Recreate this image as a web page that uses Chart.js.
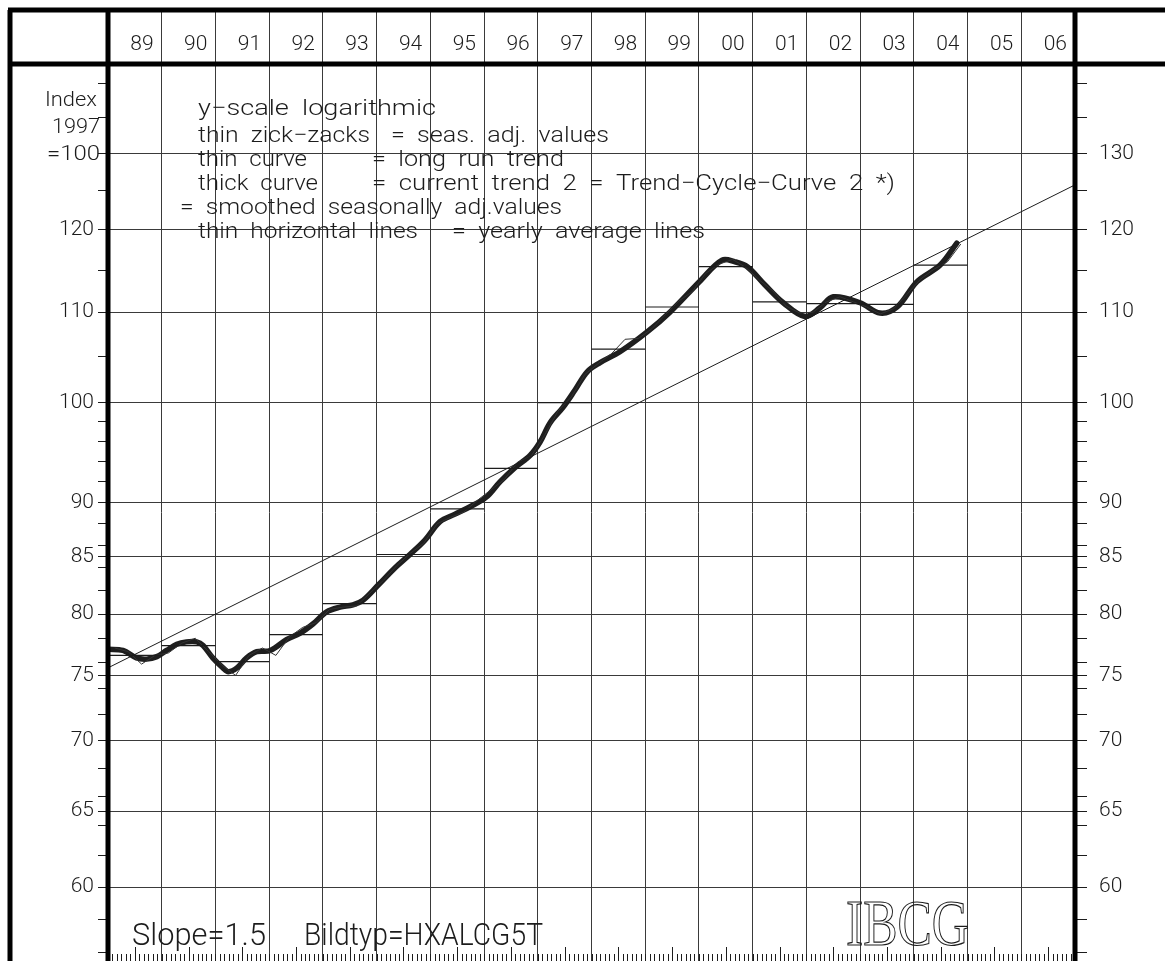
<!DOCTYPE html>
<html>
<head>
<meta charset="utf-8">
<script src="https://cdn.jsdelivr.net/npm/chart.js@4.4.1/dist/chart.umd.min.js"></script>
<style>
    html, body { margin: 0; padding: 0; background: #fff; }
    #wrap { width: 1165px; height: 961px; }
</style>
</head>
<body>
<div id="wrap"><canvas id="chart" width="1165" height="961"></canvas></div>
<script>
// x: years on the header (column boundaries)
var yearFirst = 1989;
var yearLast = 2007;

// y: log scale ticks
var yMin = 55.5;
var yMax = 142.9;
var majorTicks = [60, 65, 70, 75, 80, 85, 90, 100, 110, 120, 130];
var minorTicks = [56, 58, 62, 64, 66, 68, 72, 74, 76, 78, 82, 84, 86, 88, 92, 94, 96, 98, 105, 115, 125, 135, 140];

// yearly average lines
var avgYears = [1989, 1990, 1991, 1992, 1993, 1994, 1995, 1996, 1997, 1998, 1999, 2000, 2001, 2002, 2003, 2004];
var avgValues = [76.6, 77.4, 76.1, 78.3, 80.9, 85.2, 89.4, 93.3, 100.0, 105.8, 110.6, 115.4, 111.2, 111.0, 110.9, 115.6];

// long run trend (straight on log scale)
var trendYears = [1989, 2007];
var trendValues = [75.6, 125.8];

// thick curve = trend-cycle curve 2
var curveYears = [1989.0, 1989.28, 1989.53, 1989.72, 1989.91, 1990.09, 1990.28, 1990.46, 1990.65, 1990.77,
    1990.95, 1991.14, 1991.24, 1991.40, 1991.58, 1991.77, 1992.02, 1992.33, 1992.57, 1992.82,
    1993.07, 1993.32, 1993.56, 1993.75, 1994.03, 1994.34, 1994.62, 1994.90, 1995.18, 1995.46,
    1995.74, 1996.04, 1996.30, 1996.58, 1996.86, 1997.04, 1997.23, 1997.47, 1997.69, 1997.92,
    1998.16, 1998.53, 1999.03, 1999.46, 2000.04, 2000.43, 2000.67, 2000.90, 2001.23, 2001.57,
    2001.97, 2002.25, 2002.50, 2003.00, 2003.37, 2003.69, 2004.06, 2004.49, 2004.80];
var curveValues = [77.1, 77.0, 76.4, 76.3, 76.5, 77.0, 77.5, 77.7, 77.7, 77.4,
    76.4, 75.6, 75.3, 75.6, 76.4, 76.9, 77.0, 77.9, 78.4, 79.2,
    80.2, 80.6, 80.8, 81.2, 82.5, 84.0, 85.2, 86.5, 88.2, 88.9,
    89.6, 90.5, 92.0, 93.4, 94.6, 95.9, 97.9, 99.5, 101.3, 103.3,
    104.3, 105.5, 107.7, 110.0, 113.8, 116.2, 116.0, 115.4, 113.2, 111.1,
    109.5, 110.5, 111.8, 111.1, 109.9, 110.6, 113.6, 115.6, 118.3];

// thin zick-zacks = quarterly seasonally adjusted values, 1989 Q1 .. 2004 Q4
var quarterValues = [
    77.2, 76.9, 75.9, 76.6,
    76.8, 77.6, 78.0, 76.9,
    75.8, 75.0, 76.6, 77.2,
    76.6, 78.1, 78.9, 79.3,
    80.4, 80.6, 80.7, 81.8,
    82.9, 84.2, 85.3, 86.2,
    88.0, 88.6, 89.1, 90.2,
    91.2, 92.2, 93.9, 94.5,
    96.6, 99.1, 100.6, 103.0,
    104.2, 105.3, 106.9, 107.0,
    108.1, 109.7, 111.3, 112.4,
    114.6, 115.7, 116.3, 115.3,
    113.8, 112.5, 110.7, 109.9,
    110.0, 111.2, 111.8, 111.2,
    110.6, 109.8, 110.4, 112.1,
    113.9, 115.1, 116.0, 118.2
];

var FONT = "Roboto, 'Liberation Sans', sans-serif";
var INK = '#1c1c1c';
var GRID = '#3a3a3a';

function toPoints(xs, ys) { // coppie x/y per Chart.js
    var out = [];
    for (var i = 0; i < xs.length; i++) {
        out.push({ x: xs[i], y: ys[i] });
    }
    return out;
}

function quarterPoints() { // valori trimestrali al centro del trimestre
    var out = [];
    for (var i = 0; i < quarterValues.length; i++) {
        out.push({ x: avgYears[0] + (i + 0.5) / 4, y: quarterValues[i] });
    }
    return out;
}

function averagePoints() { // segmenti orizzontali, separati da un buco
    var out = [];
    for (var i = 0; i < avgYears.length; i++) {
        out.push({ x: avgYears[i], y: avgValues[i] });
        out.push({ x: avgYears[i] + 1, y: avgValues[i] });
        out.push({ x: avgYears[i] + 1, y: null });
    }
    return out;
}

function yTicks(scale) {
    scale.ticks = majorTicks.concat(minorTicks).sort(function (a, b) { return a - b; }).map(function (v) {
        return { value: v };
    });
}

function noPadding(scale) { // niente margini extra per le etichette
    scale.paddingTop = 0;
    scale.paddingBottom = 0;
    scale.paddingLeft = 0;
    scale.paddingRight = 0;
}

function isMajor(v) {
    return majorTicks.indexOf(v) >= 0;
}

function fitText(ctx, str, x, y, w, size, family, weight, stroke) { // testo stirato alla larghezza voluta
    ctx.save();
    ctx.font = (weight || '300') + ' ' + size + 'px ' + (family || FONT);
    var m = ctx.measureText(str).width;
    ctx.translate(x, y);
    ctx.scale(w / m, 1);
    if (stroke) {
        ctx.strokeText(str, 0, 0);
    } else {
        ctx.fillText(str, 0, 0);
    }
    ctx.restore();
}

var framePlugin = {
    id: 'frame',
    afterDraw: function (chart) {
        var ctx = chart.ctx;
        var a = chart.chartArea;
        var top = chart.scales.x.top;
        var xs = chart.scales.x;
        ctx.save();

        // month ticks along the bottom, longer at mid-year
        ctx.strokeStyle = INK;
        ctx.lineWidth = 1;
        ctx.beginPath();
        for (var m = 1; m < (yearLast - yearFirst) * 12; m++) {
            var px = Math.round(xs.getPixelForValue(yearFirst + m / 12)) + 0.5;
            var len = (m % 12 === 6) ? 14 : 7;
            ctx.moveTo(px, chart.height);
            ctx.lineTo(px, chart.height - len);
        }
        ctx.stroke();

        // thick frame
        ctx.strokeStyle = '#000';
        ctx.lineWidth = 5;
        ctx.beginPath();
        ctx.moveTo(8, top); ctx.lineTo(chart.width, top);
        ctx.moveTo(8, a.top); ctx.lineTo(chart.width, a.top);
        ctx.moveTo(10, top); ctx.lineTo(10, chart.height);
        ctx.moveTo(a.left, top); ctx.lineTo(a.left, chart.height);
        ctx.moveTo(a.right, top); ctx.lineTo(a.right, chart.height);
        ctx.stroke();

        // texts
        ctx.fillStyle = INK;
        ctx.strokeStyle = INK;
        ctx.textBaseline = 'alphabetic';
        fitText(ctx, 'Index', 45, 106, 52, 21);
        fitText(ctx, '1997', 52, 133, 48, 21);
        fitText(ctx, '=100', 47, 160, 53, 21);

        fitText(ctx, 'y\u2212scale  logarithmic', 198, 115, 238, 22);
        fitText(ctx, 'thin  zick\u2212zacks', 198, 142, 172, 22);
        fitText(ctx, '=  seas.  adj.  values', 391, 142, 218, 22);
        fitText(ctx, 'thin  curve', 198, 166, 109, 22);
        fitText(ctx, '=  long  run  trend', 372, 166, 192, 22);
        fitText(ctx, 'thick  curve', 198, 190, 120, 22);
        fitText(ctx, '=  current  trend  2  =  Trend\u2212Cycle\u2212Curve  2  *)', 372, 190, 523, 22);
        fitText(ctx, '=  smoothed  seasonally  adj.values', 180, 214, 382, 22);
        fitText(ctx, 'thin  horizontal  lines', 198, 238, 220, 22);
        fitText(ctx, '=  yearly  average  lines', 452, 238, 253, 22);

        fitText(ctx, 'Slope=1.5', 132, 945, 134, 32);
        fitText(ctx, 'Bildtyp=HXALCG5T', 304, 945, 239, 32);
        ctx.lineWidth = 1.2;
        fitText(ctx, 'IBCG', 846, 945, 123, 65, "'Liberation Serif', serif", '400', true);

        ctx.restore();
    }
};

var tickFont = { family: FONT, size: 21, weight: '300' };

var chart = new Chart(document.getElementById('chart'), {
    type: 'line',
    data: {
        datasets: [{
            label: 'long run trend',
            data: toPoints(trendYears, trendValues),
            borderColor: INK,
            borderWidth: 1,
            tension: 0,
            pointRadius: 0
        }, {
            label: 'yearly average lines',
            data: averagePoints(),
            borderColor: INK,
            borderWidth: 1.2,
            tension: 0,
            spanGaps: false,
            pointRadius: 0
        }, {
            label: 'seas. adj. values',
            data: quarterPoints(),
            borderColor: '#333',
            borderWidth: 1,
            tension: 0,
            pointRadius: 0
        }, {
            label: 'Trend-Cycle-Curve 2',
            data: toPoints(curveYears, curveValues),
            borderColor: '#1e1e1e',
            borderWidth: 5.5,
            borderCapStyle: 'round',
            borderJoinStyle: 'round',
            tension: 0.35,
            pointRadius: 0
        }]
    },
    options: {
        responsive: false,
        animation: false,
        devicePixelRatio: 1,
        layout: { padding: { top: 10, left: 0, right: 0, bottom: 0 } },
        plugins: { legend: { display: false }, tooltip: { enabled: false } },
        scales: {
            x: {
                type: 'linear',
                position: 'top',
                min: yearFirst,
                max: yearLast,
                afterBuildTicks: function (scale) {
                    var t = [];
                    for (var y = yearFirst; y <= yearLast; y++) { t.push({ value: y }); }
                    scale.ticks = t;
                },
                afterFit: function (scale) { scale.height = 54; noPadding(scale); },
                border: { display: false },
                grid: { color: GRID, lineWidth: 1, tickLength: 54, tickColor: GRID },
                ticks: {
                    autoSkip: false,
                    maxRotation: 0,
                    labelOffset: 34,
                    padding: -47,
                    color: INK,
                    font: tickFont,
                    callback: function (v) { return v < yearLast ? String(v).slice(2) : ''; }
                }
            },
            y: {
                type: 'logarithmic',
                position: 'left',
                min: yMin,
                max: yMax,
                afterBuildTicks: yTicks,
                afterFit: function (scale) { scale.width = 108; noPadding(scale); },
                border: { display: false },
                grid: {
                    color: function (c) { return c.tick && isMajor(c.tick.value) ? GRID : 'rgba(0,0,0,0)'; },
                    tickColor: INK,
                    tickLength: 10
                },
                ticks: {
                    autoSkip: false,
                    padding: 4,
                    color: INK,
                    font: tickFont,
                    callback: function (v) { return (isMajor(v) && v !== 130) ? String(v) : ''; }
                }
            },
            y2: {
                type: 'logarithmic',
                position: 'right',
                min: yMin,
                max: yMax,
                afterBuildTicks: yTicks,
                afterFit: function (scale) { scale.width = 90; noPadding(scale); },
                border: { display: false },
                grid: { drawOnChartArea: false, tickColor: INK, tickLength: 12 },
                ticks: {
                    autoSkip: false,
                    padding: 12,
                    color: INK,
                    font: tickFont,
                    callback: function (v) { return isMajor(v) ? String(v) : ''; }
                }
            }
        }
    },
    plugins: [framePlugin]
});
</script>
</body>
</html>
